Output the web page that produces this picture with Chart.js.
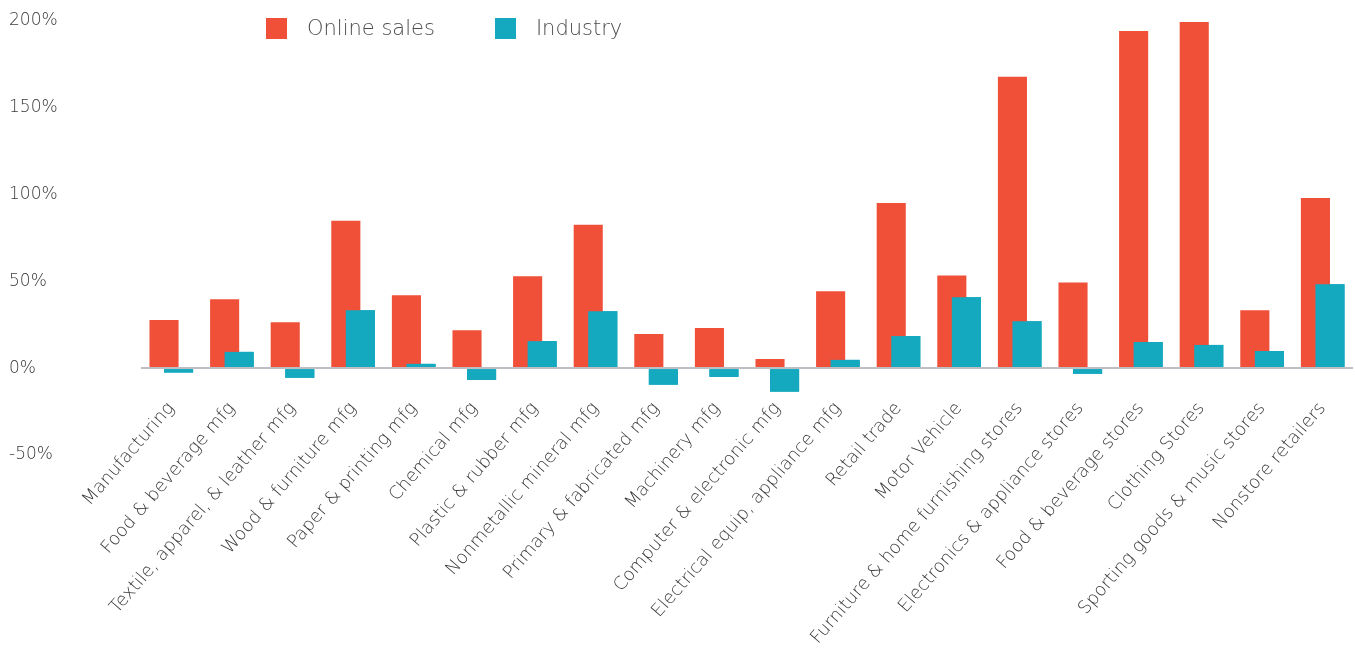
<!DOCTYPE html>
<html>
<head>
<meta charset="utf-8">
<script src="https://cdn.jsdelivr.net/npm/chart.js@4/dist/chart.umd.min.js"></script>
<style>
  html, body { margin: 0; padding: 0; background: #ffffff; }
  #wrap { position: relative; width: 1355px; height: 652px; }
  #legend {
    position: absolute; left: 266px; top: 16px;
    display: flex; align-items: center;
    font-family: 'DejaVu Sans', sans-serif; font-weight: 200;
    font-size: 21px; color: #4d4d4d;
  }
  #legend .item { display: flex; align-items: center; margin-right: 60px; }
  #legend .box { width: 21px; height: 21px; margin-right: 20px; }
</style>
</head>
<body>
<div id="wrap">
  <canvas id="chart" width="1355" height="652"></canvas>
  <div id="legend"></div>
</div>
<script>
// Categories along the x axis
const categories = [
  'Manufacturing',
  'Food & beverage mfg',
  'Textile, apparel, & leather mfg',
  'Wood & furniture mfg',
  'Paper & printing mfg',
  'Chemical mfg',
  'Plastic & rubber mfg',
  'Nonmetallic mineral mfg',
  'Primary & fabricated mfg',
  'Machinery mfg',
  'Computer & electronic mfg',
  'Electrical equip, appliance mfg',
  'Retail trade',
  'Motor Vehicle',
  'Furniture & home furnishing stores',
  'Electronics & appliance stores',
  'Food & beverage stores',
  'Clothing Stores',
  'Sporting goods & music stores',
  'Nonstore retailers'
];

// Growth, in percent
const onlineSales = [27.7, 39.7, 26.5, 84.9, 42.0, 21.9, 52.9, 82.6, 19.7, 23.1,
                     5.3, 44.3, 95.2, 53.4, 167.9, 49.4, 194.3, 199.4, 33.4, 98.1];
const industry = [-2.5, 9.4, -5.5, 33.4, 2.5, -6.7, 15.6, 32.8, -9.5, -5.0,
                  -13.5, 4.8, 18.5, 40.8, 27.1, -3.2, 15.1, 13.4, 9.9, 48.3];

// Value axis
const yMin = -50;
const yMax = 200;
const yStep = 50;

const seriesNames = ['Online sales', 'Industry'];
const seriesColors = ['#f04f38', '#14a9bf'];

const FONT = "'DejaVu Sans', sans-serif";

// Draw the Industry bars above the overlapping Online sales bars
const industryOnTop = {
  id: 'industryOnTop',
  afterDatasetsDraw(chart) {
    const meta = chart.getDatasetMeta(1);
    if (!meta.hidden) {
      chart.ctx.save();
      meta.controller.draw();
      chart.ctx.restore();
    }
  }
};

const chart = new Chart(document.getElementById('chart'), {
  type: 'bar',
  data: {
    labels: categories,
    datasets: [
      { label: seriesNames[0], data: onlineSales, backgroundColor: seriesColors[0] },
      { label: seriesNames[1], data: industry, backgroundColor: seriesColors[1] }
    ]
  },
  plugins: [industryOnTop],
  options: {
    responsive: false,
    animation: false,
    categoryPercentage: 0.48,
    barPercentage: 2.0,
    layout: { padding: { left: 9, right: 2, top: 21, bottom: 197 } },
    plugins: {
      legend: { display: false },
      tooltip: { enabled: false }
    },
    scales: {
      x: {
        type: 'category',
        position: { y: 0 },
        grid: { display: false, drawTicks: false },
        border: { display: false },
        // the category labels hang below the zero line and take no layout room
        afterFit: (scale) => {
          scale.height = 0;
          scale.paddingLeft = 0;
          scale.paddingRight = 0;
          scale.paddingTop = 0;
          scale.paddingBottom = 0;
        },
        ticks: {
          autoSkip: false,
          minRotation: 49,
          maxRotation: 49,
          padding: 30,
          color: '#3a3a3a',
          font: { family: FONT, size: 18, weight: 200 }
        }
      },
      y: {
        min: yMin,
        max: yMax,
        border: { display: false },
        grid: {
          z: 1,
          drawTicks: false,
          lineWidth: 2,
          color: (c) => (c.tick && c.tick.value === 0 ? '#bfbec4' : 'rgba(0,0,0,0)')
        },
        // fixed-width label column, labels flush left
        afterFit: (scale) => {
          scale.width = 132;
          scale.paddingTop = 0;
          scale.paddingBottom = 0;
        },
        ticks: {
          stepSize: yStep,
          crossAlign: 'far',
          color: '#3a3a3a',
          font: { family: FONT, size: 17, weight: 200 },
          callback: (v) => v + '%'
        }
      }
    }
  }
});

// Legend built from the chart's datasets
const legend = document.getElementById('legend');
chart.data.datasets.forEach((ds) => {
  const item = document.createElement('div');
  item.className = 'item';
  const box = document.createElement('span');
  box.className = 'box';
  box.style.background = ds.backgroundColor;
  const label = document.createElement('span');
  label.textContent = ds.label;
  item.appendChild(box);
  item.appendChild(label);
  legend.appendChild(item);
});
</script>
</body>
</html>
